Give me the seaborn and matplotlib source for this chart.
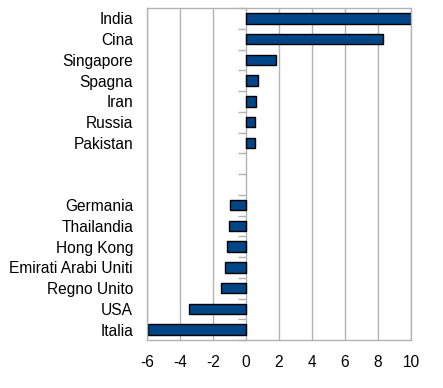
import numpy as np
import pandas as pd
import matplotlib
matplotlib.use("Agg")
import matplotlib.pyplot as plt
import seaborn as sns

# data (top to bottom, two empty slots in the middle)
paesi = ["India", "Cina", "Singapore", "Spagna", "Iran", "Russia", "Pakistan",
         "_vuoto1", "_vuoto2",
         "Germania", "Thailandia", "Hong Kong", "Emirati Arabi Uniti",
         "Regno Unito", "USA", "Italia"]
valori = [10.0, 8.3, 1.8, 0.7, 0.6, 0.55, 0.55,
          np.nan, np.nan,
          -0.95, -1.02, -1.15, -1.25, -1.5, -3.45, -5.95]
etichette = [p if not p.startswith("_") else "" for p in paesi]
xticks = [-6, -4, -2, 0, 2, 4, 6, 8, 10]

df = pd.DataFrame({"paese": paesi, "valore": valori})

sns.set_style("white")
plt.rcParams["font.family"] = ["Liberation Sans", "DejaVu Sans"]
plt.rcParams["font.size"] = 11.2

fig = plt.figure(figsize=(4.43, 3.88), dpi=100)
ax = fig.add_axes([147 / 443, 1 - 340 / 388, 264 / 443, 332 / 388])

grigio = "#b3b3b3"
ax.set_axisbelow(True)
ax.grid(axis="x", color=grigio, linewidth=1)
ax.grid(axis="y", visible=False)

sns.barplot(data=df, y="paese", x="valore", order=paesi, orient="h",
            color="#004586", saturation=1, width=0.5,
            edgecolor="black", linewidth=1, ax=ax)

ax.set_xlim(-6, 10)
ax.set_ylim(len(paesi) - 0.5, -0.5)
ax.set_xticks(xticks)
ax.set_xticklabels([str(v) for v in xticks])
ax.set_xlabel("")
ax.set_ylabel("")

# category labels on minor ticks, tick marks on boundaries
ax.set_yticks(np.arange(len(paesi) + 1) - 0.5)
ax.set_yticklabels([])
ax.set_yticks(np.arange(len(paesi)), minor=True)
ax.set_yticklabels(etichette, minor=True)
ax.tick_params(axis="y", which="major", length=6, color=grigio, direction="out", width=1)
ax.tick_params(axis="y", which="minor", length=0, pad=10, labelcolor="black")
ax.tick_params(axis="x", length=0, pad=11, labelcolor="black")

for s in ax.spines.values():
    s.set_color(grigio)
    s.set_linewidth(1)

# short ticks along the zero line
sec = ax.secondary_yaxis(6 / 16)
sec.set_yticks(np.arange(len(paesi) + 1) - 0.5)
sec.set_yticklabels([])
sec.tick_params(axis="y", length=6, color=grigio, direction="out", width=1)
sec.spines["left"].set_visible(False)

fig.savefig("out.png", dpi=100)
